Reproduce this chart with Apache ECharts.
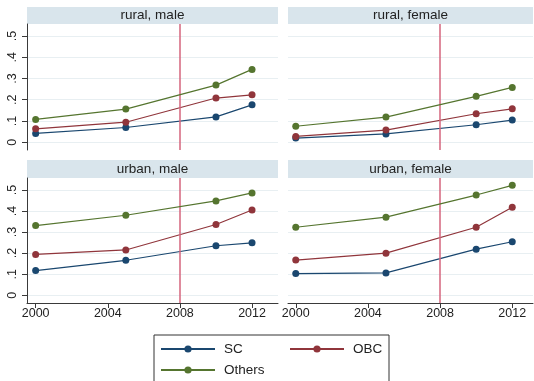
<!DOCTYPE html>
<html>
<head>
<meta charset="utf-8">
<script src="https://cdn.jsdelivr.net/npm/echarts@6/dist/echarts.min.js"></script>
<style>
  html, body { margin: 0; padding: 0; background: #ffffff; }
  #chart { width: 534px; height: 381px; }
</style>
</head>
<body>
<div id="chart"></div>
<script>
// Survey years on the x axis
const years = [2000, 2005, 2010, 2012];
// Panel order: rural male, rural female, urban male, urban female
const panelTitles = ['rural, male', 'rural, female', 'urban, male', 'urban, female'];
const groupNames = ['SC', 'OBC', 'Others'];

// Shares per panel, one row per panel
const scValues = [
  [0.041, 0.069, 0.119, 0.176],
  [0.019, 0.039, 0.082, 0.104],
  [0.117, 0.166, 0.235, 0.249],
  [0.103, 0.106, 0.219, 0.254]
];
const obcValues = [
  [0.063, 0.094, 0.208, 0.223],
  [0.027, 0.057, 0.134, 0.157],
  [0.194, 0.215, 0.336, 0.405],
  [0.167, 0.200, 0.323, 0.418]
];
const othersValues = [
  [0.107, 0.156, 0.269, 0.343],
  [0.075, 0.118, 0.216, 0.258],
  [0.331, 0.380, 0.448, 0.486],
  [0.323, 0.371, 0.476, 0.522]
];

const xTicks = [2000, 2004, 2008, 2012];
const yTicks = [0, 0.1, 0.2, 0.3, 0.4, 0.5];
const yTickLabels = ['0', '.1', '.2', '.3', '.4', '.5'];
const policyYear = 2008;

const FONT = 'Liberation Sans, Arial, Helvetica, sans-serif';
const groupColors = ['#1a476f', '#90353b', '#55752f'];
const groupValues = [scValues, obcValues, othersValues];

// Panel geometry (plot regions and header strips)
const panels = [
  { left: 27,  top: 24,  width: 251, height: 126, xMin: 1999.52, xMax: 2013.44, showX: false, showY: true },
  { left: 288, top: 24,  width: 245, height: 126, xMin: 1999.57, xMax: 2013.15, showX: false, showY: false },
  { left: 27,  top: 178, width: 251, height: 125, xMin: 1999.52, xMax: 2013.44, showX: true,  showY: true },
  { left: 288, top: 178, width: 245, height: 125, xMin: 1999.57, xMax: 2013.15, showX: true,  showY: false }
];
const stripHeight = 17;

const grids = [], xAxes = [], yAxes = [], series = [], graphics = [];

panels.forEach((p, i) => {
  grids.push({ left: p.left, top: p.top, width: p.width, height: p.height, containLabel: false });

  xAxes.push({
    gridIndex: i, type: 'value', min: p.xMin, max: p.xMax,
    axisLine: { show: p.showX, onZero: false, lineStyle: { color: '#3a3a3a', width: 1 } },
    axisTick: { show: p.showX, customValues: xTicks, length: 5, lineStyle: { color: '#3a3a3a' } },
    axisLabel: {
      show: p.showX, customValues: xTicks, fontSize: 12.5, color: '#222', fontFamily: FONT, margin: 4,
      formatter: v => String(Math.round(v))
    },
    splitLine: { show: false }
  });

  yAxes.push({
    gridIndex: i, type: 'value', min: -0.037, max: 0.557,
    axisLine: { show: p.showY, onZero: false, lineStyle: { color: '#3a3a3a', width: 1 } },
    axisTick: { show: p.showY, customValues: yTicks, length: 5, lineStyle: { color: '#3a3a3a' } },
    axisLabel: {
      show: p.showY, customValues: yTicks, rotate: 90, fontSize: 12.5, color: '#222', fontFamily: FONT, margin: 8,
      formatter: v => yTickLabels[yTicks.findIndex(t => Math.abs(t - v) < 1e-9)] ?? ''
    },
    splitLine: { show: true, lineStyle: { color: '#e8eff2', width: 1.2 } }
  });

  groupNames.forEach((name, k) => {
    const s = {
      name: name, type: 'line', xAxisIndex: i, yAxisIndex: i,
      data: years.map((y, j) => [y, groupValues[k][i][j]]),
      symbol: 'circle', symbolSize: 7,
      itemStyle: { color: groupColors[k] },
      lineStyle: { color: groupColors[k], width: 1.2 },
      z: 3 + k
    };
    if (k === 0) {
      s.markLine = {
        silent: true, symbol: ['none', 'none'], label: { show: false },
        lineStyle: { color: '#d5647d', width: 1.5, type: 'solid' },
        data: [{ xAxis: policyYear }]
      };
    }
    series.push(s);
  });

  // Panel header strip
  graphics.push({
    type: 'rect', shape: { x: p.left, y: p.top - stripHeight - (p.showX ? 1 : 0), width: p.width, height: stripHeight + (p.showX ? 1 : 0) },
    style: { fill: '#d9e5ec' }, silent: true
  });
  graphics.push({
    type: 'text', x: p.left + p.width / 2, y: p.top - stripHeight / 2 - (p.showX ? 0.5 : 0),
    style: { text: panelTitles[i], fill: '#222', font: '13.5px ' + FONT, align: 'center', verticalAlign: 'middle' },
    silent: true
  });
});

const chart = echarts.init(document.getElementById('chart'), null, { renderer: 'canvas' });
chart.setOption({
  animation: false,
  backgroundColor: '#ffffff',
  grid: grids,
  xAxis: xAxes,
  yAxis: yAxes,
  series: series,
  graphic: graphics,
  legend: {
    left: 154, top: 335, orient: 'horizontal', width: 225,
    padding: [7, 6, 7, 6], itemGap: 7, itemWidth: 54, itemHeight: 9,
    borderColor: '#333', borderWidth: 1, backgroundColor: '#ffffff',
    textStyle: { fontSize: 13.5, color: '#222', fontFamily: FONT, lineHeight: 14, width: 58, padding: [0, 0, 0, 4] },
    data: [{ name: 'SC' }, { name: 'OBC', textStyle: { width: 30 } }, { name: 'Others' }]
  }
});
</script>
</body>
</html>
